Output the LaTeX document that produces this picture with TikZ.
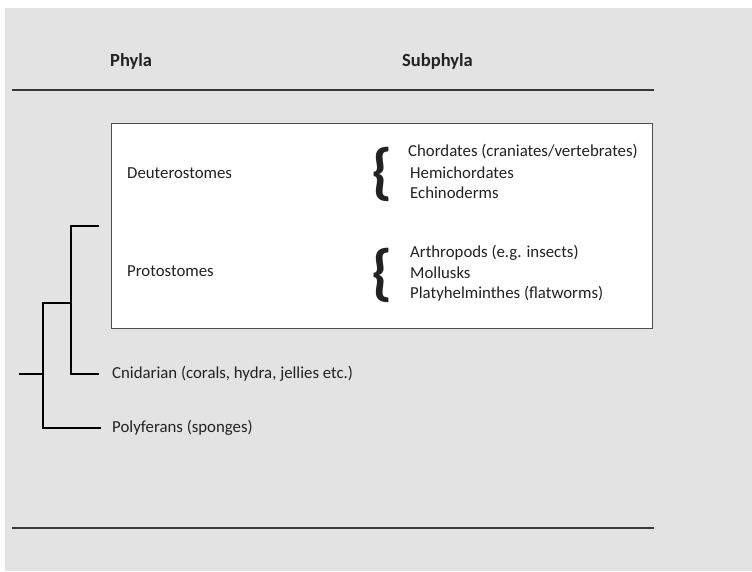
\documentclass[tikz,border=0pt]{standalone}
\usepackage{fontspec}
\setmainfont{Carlito}
\definecolor{bg}{HTML}{E3E3E3}
\definecolor{ink}{HTML}{222222}
\begin{document}
\begin{tikzpicture}[x=1pt,y=-1pt,
  lbl/.style={anchor=west,inner sep=0pt,text=ink,font=\fontsize{16.8}{19}\selectfont},
  hdr/.style={anchor=west,inner sep=0pt,text=ink,font=\fontsize{18.5}{21}\selectfont\bfseries},
  brc/.style={inner sep=0pt,text=ink,font=\fontsize{62}{62}\selectfont\bfseries},
  rule/.style={draw=ink!90,line width=1.6pt},
  tree/.style={draw=black,line width=1.3pt}]
\useasboundingbox (0,0) rectangle (752,571);
\fill[bg] (5,8) rectangle (752,571);
\node[hdr] (phyla) at (110,61) {Phyla};
\node[hdr] (subphyla) at (402,61) {Subphyla};
\coordinate (t1) at (12,90); \coordinate (t2) at (654,90);
\draw[rule] (t1) -- (t2);
\coordinate (b1) at (12,528); \coordinate (b2) at (654,528);
\draw[rule] (b1) -- (b2);
\node[draw=ink!80,fill=white,line width=0.8pt,minimum width=541pt,minimum height=205pt,anchor=north west,inner sep=0pt] (box) at (111,123) {};
\node[lbl] (deut) at (127,173) {Deuterostomes};
\node[lbl] (prot) at (127,271) {Protostomes};
\node[brc] (br1) at (382,174) {\{};
\node[brc] (br2) at (382,275) {\{};
\node[lbl] (c1) at (408,152) {Chordates (craniates/vertebrates)};
\node[lbl] (c2) at (410,173) {Hemichordates};
\node[lbl] (c3) at (410,193) {Echinoderms};
\node[lbl] (a1) at (410,253) {Arthropods (e.g. insects)};
\node[lbl] (a2) at (410,273) {Mollusks};
\node[lbl] (a3) at (410,294) {Platyhelminthes (flatworms)};
\node[lbl] (cnid) at (112,374) {Cnidarian (corals, hydra, jellies etc.)};
\node[lbl] (poly) at (112,428) {Polyferans (sponges)};
\coordinate (up) at (99,226);
\coordinate (uj) at (71,226);
\coordinate (cj) at (71,374);
\coordinate (ce) at (99,374);
\coordinate (mj) at (71,303);
\coordinate (mo) at (43,303);
\coordinate (pj) at (43,428);
\coordinate (pe) at (101,428);
\coordinate (rj) at (43,374);
\coordinate (ro) at (19,374);
\draw[tree] (up) -- (uj) -- (cj) -- (ce);
\draw[tree] (mj) -- (mo) -- (pj) -- (pe);
\draw[tree] (ro) -- (rj);
\end{tikzpicture}
\end{document}
